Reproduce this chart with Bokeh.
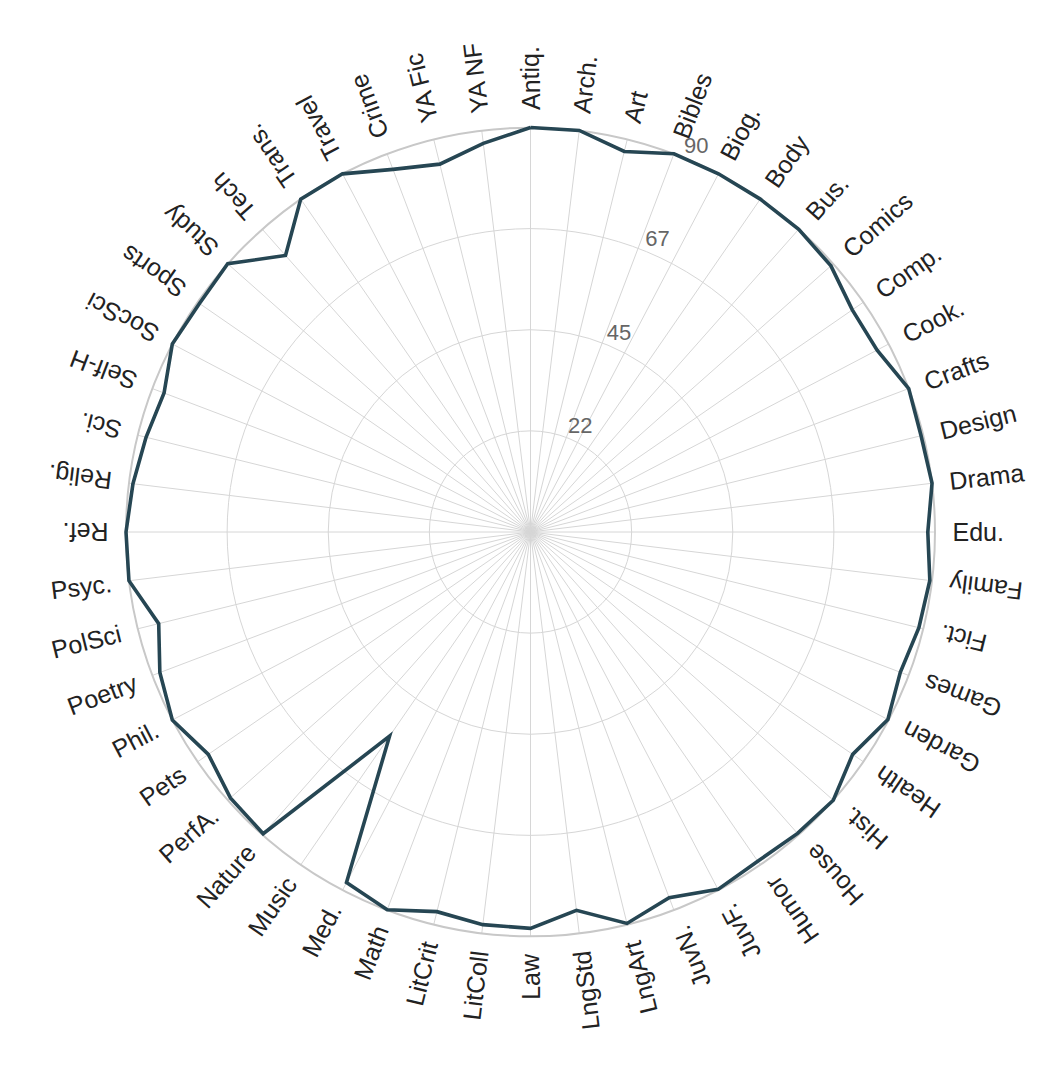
import numpy as np
from bokeh.plotting import figure
from bokeh.models import ColumnDataSource, Range1d
from bokeh.core.properties import value
from bokeh.embed import file_html
from bokeh.resources import INLINE

categories = ["Antiq.", "Arch.", "Art", "Bibles", "Biog.", "Body", "Bus.", "Comics",
              "Comp.", "Cook.", "Crafts", "Design", "Drama", "Edu.", "Family", "Fict.",
              "Games", "Garden", "Health", "Hist.", "House", "Humor", "JuvF.", "JuvN.",
              "LngArt", "LngStd", "Law", "LitColl", "LitCrit", "Math", "Med.", "Music",
              "Nature", "PerfA.", "Pets", "Phil.", "Poetry", "PolSci", "Psyc.", "Ref.",
              "Relig.", "Sci.", "Self-H", "SocSci", "Sports", "Study", "Tech", "Trans.",
              "Travel", "Crime", "YA Fic", "YA NF"]
values = [90, 90, 87.2, 90, 90, 90, 90, 89.3,
          87, 87.1, 90, 89.5, 90, 88.4, 89.5, 89,
          88, 89.8, 87.1, 90, 89.6, 89, 89.8, 87,
          89.7, 84.8, 88.2, 88, 87, 89.9, 88.1, 55.2,
          89.7, 89.2, 87.1, 90, 88.2, 85.2, 90, 90,
          89.1, 88.1, 87.2, 90, 89.5, 90, 82.2, 90,
          90, 86.3, 84.3, 87.1]
max_value = 90
ring_values = [22.5, 45, 67.5, 90]
ring_labels = ["22", "45", "67", "90"]

W, H = 1044, 1064
CX, CY = 530, 531.5
R = 404.5
scale = R / max_value
LABEL_R = 422
FONT = value("Liberation Sans")

p = figure(width=W, height=H, x_range=Range1d(-CX, W - CX), y_range=Range1d(-(H - CY), CY),
           output_backend="svg", toolbar_location=None, min_border=0,
           x_axis_type=None, y_axis_type=None)
p.grid.visible = False
p.outline_line_color = None
p.background_fill_color = "white"
p.border_fill_color = "white"

n = len(categories)
theta = np.arange(n) * 2 * np.pi / n  # clockwise from top

# spokes
p.multi_line(xs=[[0, R * np.sin(t)] for t in theta], ys=[[0, R * np.cos(t)] for t in theta],
             line_color="#d6d6d6", line_width=1)

# rings
for rv in ring_values:
    outer = rv == max_value
    p.circle(x=[0], y=[0], radius=rv * scale, fill_color=None,
             line_color="#c8c8c8" if outer else "#d6d6d6", line_width=2 if outer else 1)

# data line
vals = np.array(values, dtype=float)
lx = list(vals * scale * np.sin(theta)) + [vals[0] * scale * np.sin(theta[0])]
ly = list(vals * scale * np.cos(theta)) + [vals[0] * scale * np.cos(theta[0])]
p.line(lx, ly, line_color="#264653", line_width=3.6, line_join="miter")

# category labels
left = dict(x=[], y=[], text=[], angle=[])
right = dict(x=[], y=[], text=[], angle=[])
for i, c in enumerate(categories):
    d = i * 360.0 / n
    phi = 90 - d
    x = LABEL_R * np.sin(theta[i])
    y = LABEL_R * np.cos(theta[i])
    if n < 4 * i < 3 * n:
        tgt = right
        ang = phi + 180
    else:
        tgt = left
        ang = phi
    tgt["x"].append(x)
    tgt["y"].append(y)
    tgt["text"].append(c)
    tgt["angle"].append(np.radians(ang))

for src, al in ((left, "left"), (right, "right")):
    p.text(x="x", y="y", text="text", angle="angle", source=ColumnDataSource(src),
           text_align=al, text_baseline="middle", text_font=FONT,
           text_font_size="25px", text_color="#222222")

# ring tick labels
alpha = np.radians(22.5)
tx = [rv * scale * np.sin(alpha) + 11 for rv in ring_values]
ty = [rv * scale * np.cos(alpha) + 13 for rv in ring_values]
p.text(x=tx, y=ty, text=ring_labels, text_align="center", text_baseline="middle",
       text_font=FONT, text_font_size="22px", text_color="#666666")

open("out.html", "w").write(file_html(p, INLINE))
